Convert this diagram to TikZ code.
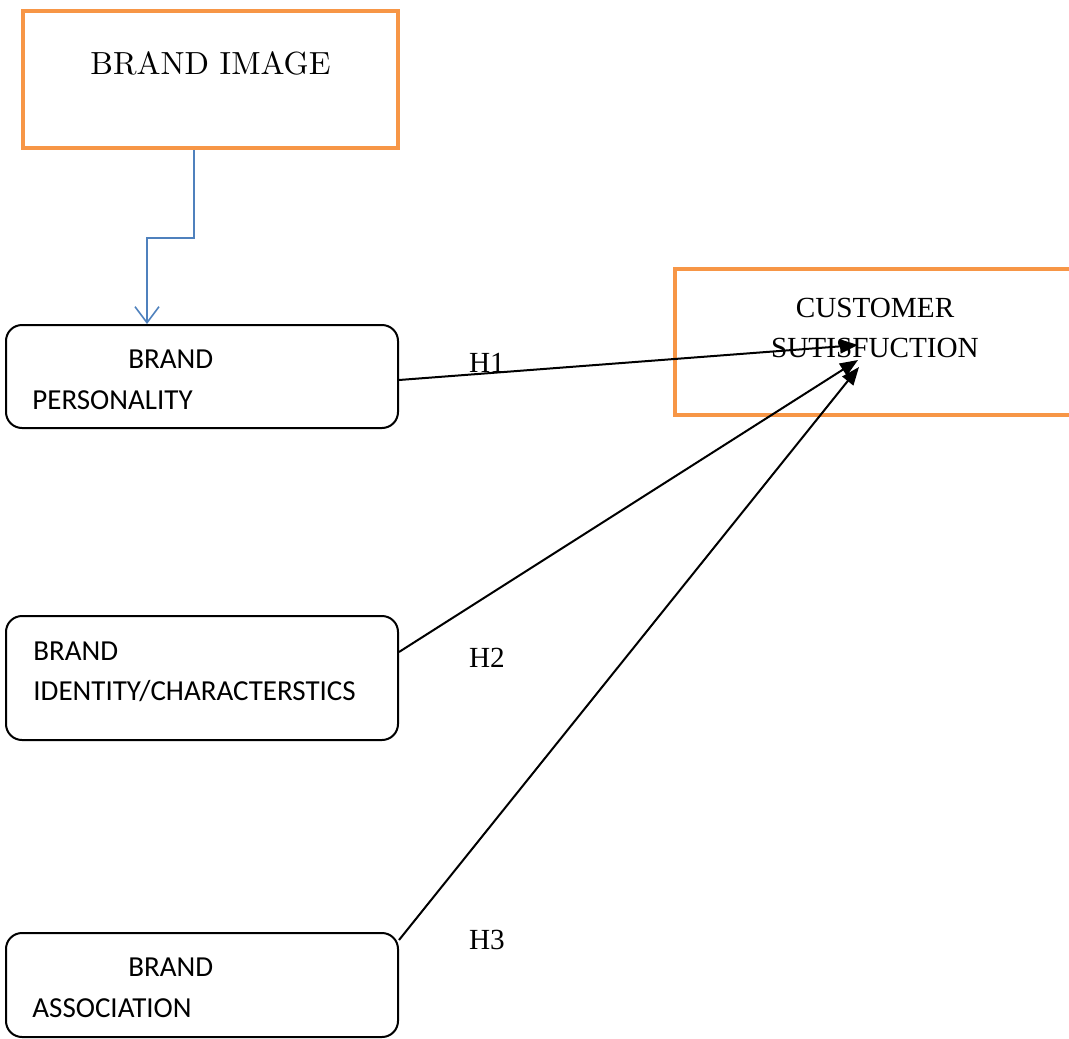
\documentclass[tikz,border=0pt]{standalone}
\usepackage{fontspec}
\newfontfamily\calib{Carlito}
\newfontfamily\tms{Liberation Serif}
\newfontfamily\lmten{lmroman10-regular.otf}
\usetikzlibrary{calc,arrows.meta}
\definecolor{borange}{HTML}{F79646}
\definecolor{bblue}{HTML}{4F81BD}
\tikzset{
  obox/.style={draw=borange,line width=2pt,rectangle,inner sep=0pt},
  rbox/.style={draw=black,line width=1pt,rounded corners=8pt,rectangle,inner sep=0pt},
  ctext/.style={font=\calib\fontsize{14.5}{17}\selectfont,anchor=base west,inner sep=0pt},
  ttext/.style={font=\tms\fontsize{14.6}{17}\selectfont,inner sep=0pt},
  harrow/.style={draw=black,line width=1pt,-{Triangle[length=9pt,width=7pt]}},
  blarrow/.style={draw=bblue,line width=0.8pt,-{Straight Barb[length=8pt,width=12pt,line width=0.8pt]}}
}
\begin{document}
\begin{tikzpicture}[x=0.5pt,y=-0.5pt]
\useasboundingbox (0,0) rectangle (1069,1038);
% boxes
\node[obox,minimum width=187.5pt,minimum height=68.5pt] (bi) at (210.5,79.5) {};
\node[font=\lmten\fontsize{16}{19}\selectfont,inner sep=0pt,anchor=base] (bit) at (210.5,75) {BRAND IMAGE};
\node[rbox,minimum width=196pt,minimum height=51.5pt] (bp) at (202,376.5) {};
\node[ctext] (bpt1) at (128,368) {BRAND};
\node[ctext] (bpt2) at (32,409) {PERSONALITY};
\node[rbox,minimum width=196pt,minimum height=62pt] (bid) at (202,678) {};
\node[ctext] (bidt1) at (33,660) {BRAND};
\node[ctext] (bidt2) at (33,700) {IDENTITY/CHARACTERSTICS};
\node[rbox,minimum width=196pt,minimum height=52pt] (ba) at (202,985) {};
\node[ctext] (bat1) at (128,976) {BRAND};
\node[ctext] (bat2) at (32,1017) {ASSOCIATION};
\node[obox,minimum width=200pt,minimum height=73pt] (cs) at (875,342) {};
\node[ttext,anchor=base] (cst1) at (875,317) {CUSTOMER};
\node[ttext,anchor=base] (cst2) at (875,357) {SUTISFUCTION};
% labels
\node[ttext] (h1) at (487,363) {H1};
\node[ttext] (h2) at (487,658) {H2};
\node[ttext] (h3) at (487,940) {H3};
% targets
\coordinate (t1) at (858,345);
\coordinate (t2) at (858,360);
\coordinate (t3) at (859,367);
% blue connector
\coordinate (bs) at (194,148);
\draw[blarrow] (bi.south -| bs) -- (194,238) -- (147,238) -- (bp.north -| 147,0);
% arrows
\draw[harrow] ($(bp.east)+(0,3.5)$) -- (t1);
\draw[harrow] ($(bid.east)+(0,-26)$) -- (t2);
\draw[harrow] ($(ba.north east)+(0,8)$) -- (t3);
\end{tikzpicture}
\end{document}
